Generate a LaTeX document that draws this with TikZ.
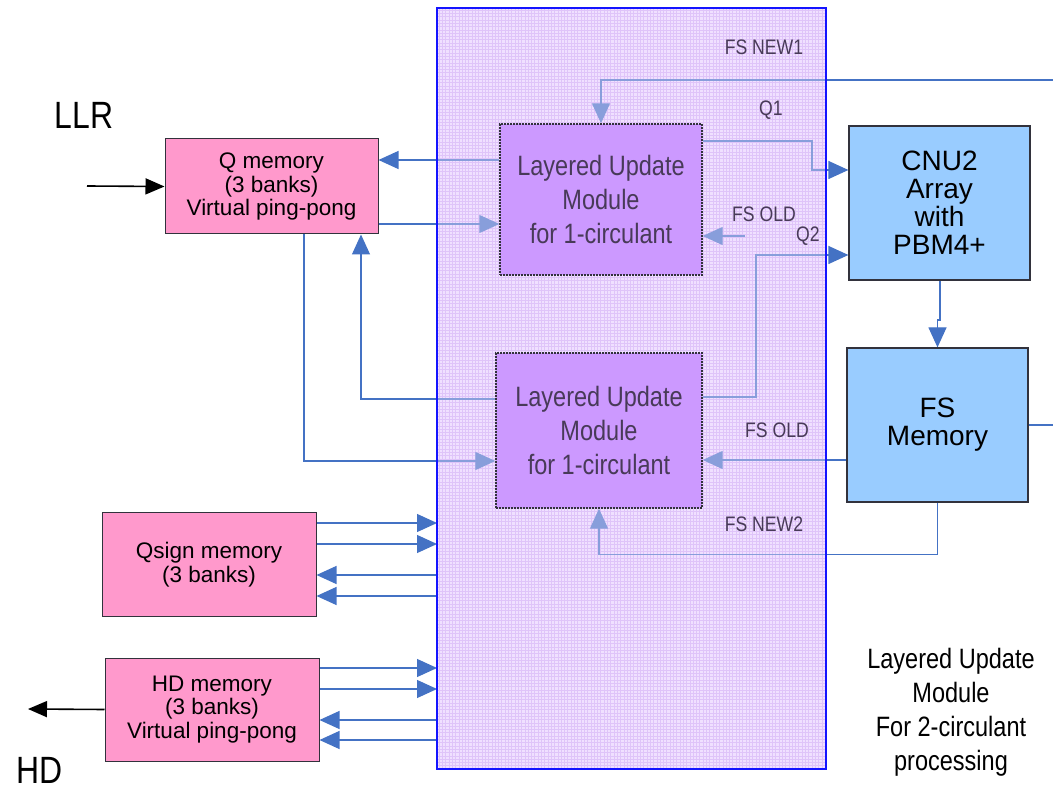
\documentclass[tikz,border=0pt]{standalone}
\usepackage{fontspec}
\setmainfont{Liberation Sans}
\newfontfamily\narrowfont{Liberation Sans}[FakeStretch=0.84]
\usetikzlibrary{positioning, arrows.meta}
\definecolor{wireBlue}{RGB}{68, 114, 196}
\definecolor{memPink}{RGB}{255, 153, 204}
\definecolor{cnuBlue}{RGB}{153, 204, 255}
\definecolor{lumViolet}{RGB}{204, 153, 255}
\definecolor{frameFill}{RGB}{240, 224, 255}
\definecolor{gridLine}{RGB}{212, 178, 246}
\definecolor{frameBlue}{RGB}{20, 20, 255}
\definecolor{boxEdge}{RGB}{50, 50, 60}
\definecolor{lumText}{RGB}{72, 58, 88}
\pgfdeclarelayer{background}
\pgfdeclarelayer{wires}
\pgfdeclarelayer{veil}
\pgfsetlayers{background,wires,veil,main}
\tikzset{
    mem_box/.style={
        draw=boxEdge,
        line width=1pt,
        fill=memPink,
        align=center,
        inner sep=0pt,
        minimum width=213pt,
        minimum height=95pt,
        font=\fontsize{22.5}{23.5}\selectfont
    },
    cnu_box/.style={
        draw=boxEdge,
        line width=1.2pt,
        fill=cnuBlue,
        align=center,
        inner sep=0pt,
        minimum width=181pt,
        minimum height=154pt,
        font=\fontsize{28}{28}\selectfont
    },
    lum_box/.style={
        draw=boxEdge,
        line width=1.4pt,
        dash pattern=on 2pt off 1pt,
        fill=lumViolet,
        text=lumText,
        align=center,
        inner sep=0pt,
        font=\narrowfont\fontsize{28}{34}\selectfont
    },
    sig_label/.style={
        text=lumText,
        inner sep=0pt,
        font=\narrowfont\fontsize{21}{21}\selectfont
    },
    big_label/.style={
        inner sep=0pt,
        font=\narrowfont\fontsize{38}{38}\selectfont
    },
    wire/.style={
        draw=wireBlue,
        line width=1.2pt,
        -{Triangle[length=20pt,width=18pt]}
    },
    io_arrow/.style={
        draw=black,
        line width=1.6pt,
        -{Triangle[length=19pt,width=16pt]}
    }
}

\begin{document}
\begin{tikzpicture}[x=1pt, y=-1pt]
    \useasboundingbox (0,0) rectangle (1053,791);

    % outer 2-circulant block
    \coordinate (frame_nw) at (437,8);
    \coordinate (frame_se) at (826,769);
    \begin{pgfonlayer}{background}
        \fill[frameFill] (frame_nw) rectangle (frame_se);
        \draw[gridLine, line width=0.35pt, step=3.3pt] (frame_nw) grid (frame_se);
    \end{pgfonlayer}
    \begin{pgfonlayer}{veil}
        \fill[frameFill, fill opacity=0.4] (frame_nw) rectangle (frame_se);
        \draw[frameBlue, line width=2pt] (frame_nw) rectangle (frame_se);
    \end{pgfonlayer}

    % memories
    \node[mem_box] (qmem) at (271.5,186.5) {Q memory\\(3 banks)\\Virtual ping-pong};
    \node[mem_box, minimum width=214pt, minimum height=103pt] (qsign) at (209,564.5) {Qsign memory\\(3 banks)};
    \node[mem_box, minimum width=214pt, minimum height=103pt] (hdmem) at (212,709.5) {HD memory\\(3 banks)\\Virtual ping-pong};

    % update modules
    \node[lum_box, minimum width=202pt, minimum height=151pt] (lum1) at (601,199.5) {Layered Update\\Module\\for 1-circulant};
    \node[lum_box, minimum width=206pt, minimum height=155pt] (lum2) at (599,430.5) {Layered Update\\Module\\for 1-circulant};

    % check node side
    \node[cnu_box] (cnu) at (939.5,203) {CNU2\\Array\\with\\PBM4+};
    \node[cnu_box] (fsmem) at (937.5,425) {FS\\Memory};

    % port names
    \node[big_label] (llr) at (84,115) {LLR};
    \node[big_label] (hd) at (40,770) {HD};
    \node[big_label, font=\narrowfont\fontsize{28}{34}\selectfont, align=center] (caption) at (951,712)
        {Layered Update\\Module\\For 2-circulant\\processing};

    % signal names
    \node[sig_label] (fsnew1) at (764,47) {FS NEW1};
    \node[sig_label] (qone) at (771,110) {Q1};
    \node[sig_label] (fsold1) at (764,214) {FS OLD};
    \node[sig_label] (qtwo) at (808,236) {Q2};
    \node[sig_label] (fsold2) at (777,430) {FS OLD};
    \node[sig_label] (fsnew2) at (764,524) {FS NEW2};

    \coordinate (llrin) at (87,186);
    \coordinate (hdout) at (28,709);
    \coordinate (fsnewin) at (1053,80);
    \coordinate (fsoldin) at (745,236);
    \coordinate (fsout) at (1053,425);

    \draw[io_arrow] (llrin) -- (qmem.west);
    \draw[io_arrow] (hdmem.west) -- (hdout);

    \begin{pgfonlayer}{wires}
        \draw[wire] (fsnewin) -| (lum1.north);
        \draw[wire] (lum1.west |- 0,160) -- (qmem.east |- 0,160);
        \draw[wire] (qmem.east |- 0,224) -- (lum1.west |- 0,224);
        \draw[wire] (lum1.east |- 0,141) -- (812,141) |- (cnu.west |- 0,170);
        \draw[wire] (fsoldin) -- (lum1.east |- 0,236);
        \draw[wire] (lum2.east |- 0,397) -- (756,397) |- (cnu.west |- 0,255);
        \draw[wire] (lum2.west |- 0,399) -| (qmem.south -| 361,0);
        \draw[wire] (qmem.south -| 304,0) |- (lum2.west |- 0,461);
        \draw[wire] (cnu.south -| 940,0) -- (940,320) -- (937.5,320) -- (fsmem.north);
        \draw[wire] (fsmem.west |- 0,460) -- (lum2.east |- 0,460);
        \draw[wire] (fsmem.south) -- ++(0,52) -| (lum2.south);
        \draw[wire, -] (fsmem.east) -- (fsout);

        % sign and hard decision buses
        \foreach \y in {523,544} {
            \draw[wire] (qsign.east |- 0,\y) -- (frame_nw |- 0,\y);
        }
        \foreach \y in {575,596} {
            \draw[wire] (frame_nw |- 0,\y) -- (qsign.east |- 0,\y);
        }
        \foreach \y in {668,689} {
            \draw[wire] (hdmem.east |- 0,\y) -- (frame_nw |- 0,\y);
        }
        \foreach \y in {720,740} {
            \draw[wire] (frame_nw |- 0,\y) -- (hdmem.east |- 0,\y);
        }
    \end{pgfonlayer}
\end{tikzpicture}
\end{document}
